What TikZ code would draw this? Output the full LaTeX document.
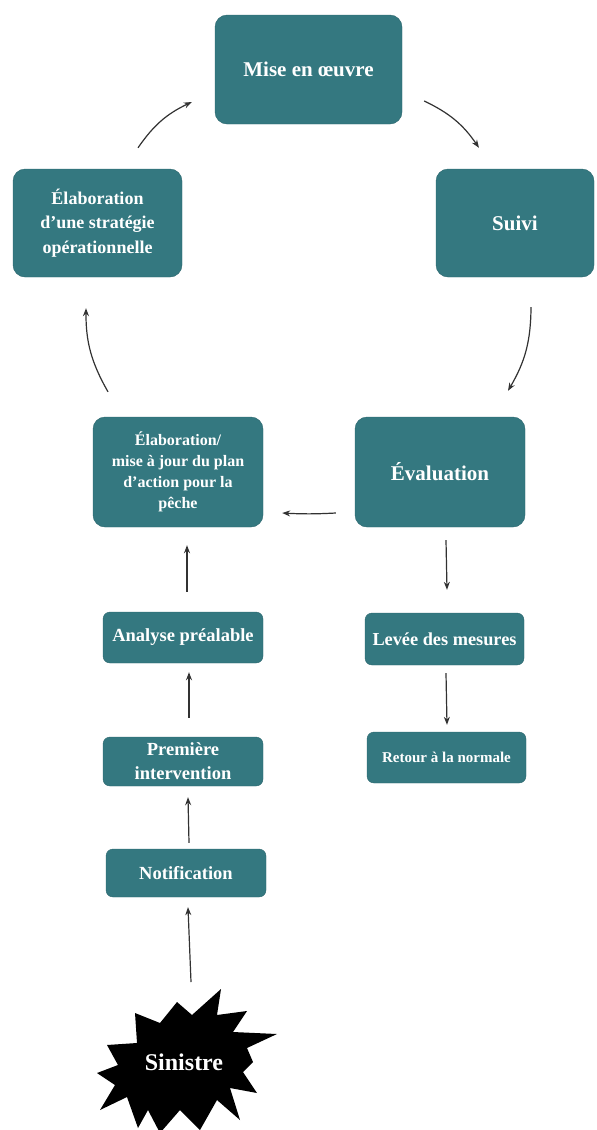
\documentclass[tikz,border=0pt]{standalone}
\usepackage{fontspec}
\setmainfont{Liberation Serif}
\usetikzlibrary{arrows.meta}
\definecolor{tealbox}{RGB}{52,120,128}
\definecolor{arrowgray}{RGB}{50,50,50}
\begin{document}
\begin{tikzpicture}[x=1pt,y=-1pt,
  box/.style={fill=tealbox, draw=tealbox!85!black, line width=0.4pt, rounded corners=12pt,
              text=white, align=center, inner sep=0pt},
  sbox/.style={box, rounded corners=7pt},
  fs/.style 2 args={font=\bfseries\fontsize{#1}{#2}\selectfont},
  arr/.style={draw=arrowgray, line width=1.2pt, -{Stealth[length=8pt,width=6pt]}}]
\useasboundingbox (0,0) rectangle (597,1130);

% cycle boxes
\node[box, fs={21}{24}, minimum width=187pt, minimum height=109pt] (mise) at (308.5,69.5)
  {Mise en œuvre};
\node[box, fs={18}{24.5}, minimum width=169pt, minimum height=108pt] (strat) at (97.5,223)
  {Élaboration\\d’une stratégie\\opérationnelle};
\node[box, fs={21}{24}, minimum width=158pt, minimum height=108pt] (suivi) at (515,223)
  {Suivi};
\node[box, fs={16}{21}, minimum width=170pt, minimum height=110pt] (plan) at (178,472)
  {Élaboration/\\mise à jour du plan\\d’action pour la\\pêche};
\node[box, fs={21}{24}, minimum width=170pt, minimum height=110pt] (eval) at (440,472)
  {Évaluation};

% left column
\node[sbox, fs={18.5}{22}, minimum width=160pt, minimum height=51pt] (analyse) at (183,637.5)
  {Analyse préalable};
\node[sbox, fs={18.5}{24}, minimum width=160pt, minimum height=49pt] (prem) at (183,761.5)
  {Première\\intervention};
\node[sbox, fs={18.5}{22}, minimum width=160pt, minimum height=48pt] (notif) at (186,873)
  {Notification};

% right column
\node[sbox, fs={18.3}{22}, minimum width=159pt, minimum height=52pt] (levee) at (444.5,639)
  {Levée des mesures};
\node[sbox, fs={15}{18}, minimum width=159pt, minimum height=51pt] (retour) at (446.5,757.5)
  {Retour à la normale};

% starburst
\fill[black] (221,989) -- (217,1015) -- (247,1011) -- (233,1032) -- (277,1034)
  -- (247,1048) -- (253,1062) -- (243,1072) -- (257,1093) -- (230,1088)
  -- (240,1120) -- (217,1100) -- (200,1130) -- (180,1110) -- (160,1133)
  -- (148,1110) -- (138,1128) -- (127,1097) -- (100,1110) -- (115,1085)
  -- (97,1073) -- (118,1065) -- (107,1045) -- (137,1043) -- (135,1013)
  -- (160,1023) -- (177,1002) -- (192,1015) -- cycle;
\node[text=white, fs={24}{28}, inner sep=0pt] (sin) at (184,1062) {Sinistre};

% cycle arrows
\draw[arr] ([xshift=40.5pt,yshift=21pt]strat.north) to[bend left=15] ([xshift=-23pt,yshift=-32.5pt]mise.west);
\draw[arr] ([xshift=22pt,yshift=-31.5pt]mise.east) to[bend left=15] ([xshift=-36pt,yshift=21pt]suivi.north);
\draw[arr] ([xshift=16pt,yshift=-30pt]suivi.south) to[bend left=15] ([xshift=68pt,yshift=26pt]eval.north);
\draw[arr] ([xshift=-19pt,yshift=-41pt]eval.west) to[bend left=3] ([xshift=19pt,yshift=-41pt]plan.east);
\draw[arr] ([xshift=-70pt,yshift=25pt]plan.north) to[bend left=15] ([xshift=-11.5pt,yshift=-31pt]strat.south);

% vertical arrows
\draw[arr] ([xshift=4pt,yshift=20pt]analyse.north) -- ([xshift=9pt,yshift=-18pt]plan.south);
\draw[arr] ([xshift=6pt,yshift=19pt]prem.north) -- ([xshift=6pt,yshift=-9pt]analyse.south);
\draw[arr] ([xshift=3pt,yshift=6pt]notif.north) -- ([xshift=5pt,yshift=-11pt]prem.south);
\draw[arr] ([xshift=7pt,yshift=80pt]sin.center) -- ([xshift=2pt,yshift=-10pt]notif.south);
\draw[arr] ([xshift=6pt,yshift=-13pt]eval.south) -- ([xshift=2.5pt,yshift=23pt]levee.north);
\draw[arr] ([xshift=1.5pt,yshift=-8pt]levee.south) -- ([xshift=0.5pt,yshift=7pt]retour.north);
\end{tikzpicture}
\end{document}
